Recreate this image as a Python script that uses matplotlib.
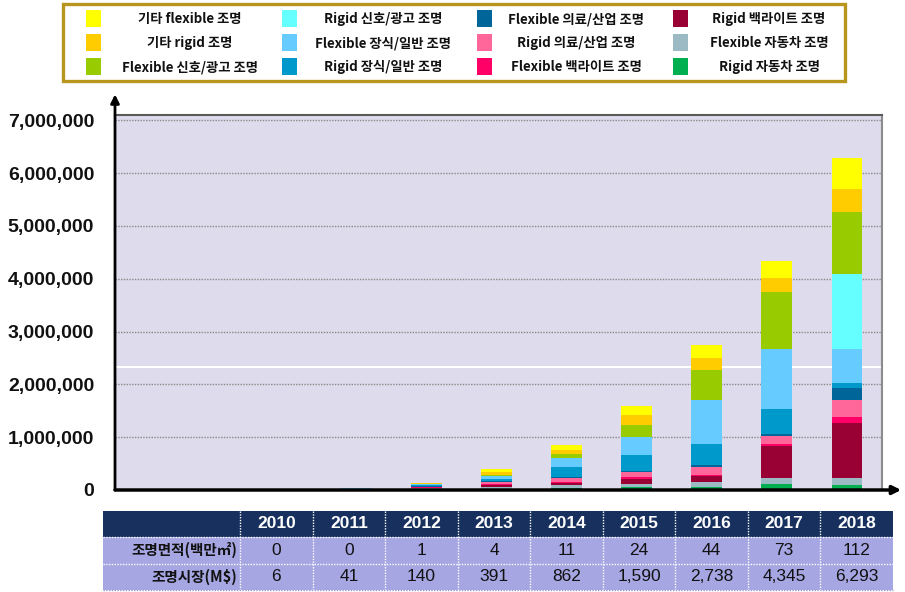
import numpy as np
import matplotlib
matplotlib.use("Agg")
import matplotlib.pyplot as plt
from matplotlib.patches import Rectangle

plt.rcParams['font.family'] = ['Noto Sans CJK KR', 'DejaVu Sans']

W, H = 905, 592

years = ["2010", "2011", "2012", "2013", "2014", "2015", "2016", "2017", "2018"]

# 단위: 천 달러 (축 눈금은 그대로 표기)
etc_flex = [500, 3000, 15000, 55000, 113000, 168000, 241000, 322000, 592000]
etc_rigid = [500, 3000, 10000, 45000, 74000, 201000, 226000, 270000, 435000]
flex_sign = [500, 3000, 10000, 28000, 74000, 222000, 572000, 1090000, 1185000]
rigid_sign = [0, 0, 0, 0, 0, 0, 0, 0, 1402000]
flex_deco = [500, 5000, 15000, 50000, 173000, 349000, 823000, 1131000, 654000]
rigid_deco = [500, 6000, 20000, 52000, 180000, 302000, 408000, 462000, 94000]
flex_medical = [200, 2000, 5000, 8000, 22000, 20000, 33000, 52000, 230000]
rigid_medical = [600, 4000, 15000, 45000, 74000, 94000, 142000, 154000, 312000]
flex_backlight = [200, 1000, 5000, 8000, 16000, 27000, 33000, 28000, 123000]
rigid_backlight = [500, 4000, 15000, 38000, 45000, 94000, 117000, 609000, 1047000]
flex_auto = [1000, 6000, 20000, 42000, 52000, 67000, 78000, 116000, 125000]
rigid_auto = [1000, 4000, 10000, 20000, 38000, 50000, 65000, 110000, 94000]

# 범례 순서 (열 우선)
labels = ["기타 flexible 조명", "기타 rigid 조명", "Flexible 신호/광고 조명",
          "Rigid 신호/광고 조명", "Flexible 장식/일반 조명", "Rigid 장식/일반 조명",
          "Flexible 의료/산업 조명", "Rigid 의료/산업 조명", "Flexible 백라이트 조명",
          "Rigid 백라이트 조명", "Flexible 자동차 조명", "Rigid 자동차 조명"]
colors = ["#FFFF00", "#FFCC00", "#99CC00",
          "#66FFFF", "#66CCFF", "#0099CC",
          "#006699", "#FF6699", "#FF0066",
          "#990033", "#9BBAC4", "#00B050"]
series = [etc_flex, etc_rigid, flex_sign, rigid_sign, flex_deco, rigid_deco,
          flex_medical, rigid_medical, flex_backlight, rigid_backlight,
          flex_auto, rigid_auto]

area_row = ["0", "0", "1", "4", "11", "24", "44", "73", "112"]
market_row = ["6", "41", "140", "391", "862", "1,590", "2,738", "4,345", "6,293"]
row_labels = ["조명면적(백만㎡)", "조명시장(M$)"]

fig = plt.figure(figsize=(W / 100, H / 100), dpi=100)

# ---- 본 차트 ----
ax = fig.add_axes([115 / W, 1 - 490 / H, 767 / W, 375 / H])
ax.set_facecolor("#DDDBEC")
x = np.arange(len(years))
bottom = np.zeros(len(years))
for vals, col in reversed(list(zip(series, colors))):
    v = np.array(vals, dtype=float)
    ax.bar(x, v, width=0.44, bottom=bottom, color=col, edgecolor="none", zorder=3)
    bottom += v

ax.set_xlim(-2.44, 8.5)
ax.set_ylim(0, 7.1e6)
yt = np.arange(0, 7000001, 1000000)
ax.set_yticks(yt)
ax.set_yticklabels([f"{int(v):,}" for v in yt], family="Liberation Sans",
                   fontweight="bold", fontsize=14, color="#111111")
ax.tick_params(axis="y", length=0, pad=15)
ax.set_xticks([])
ax.grid(axis="y", color="#8a8a8a", linestyle=(0, (1, 1)), lw=1, zorder=1)
ax.axhline(2.33e6, color="white", lw=1.5, zorder=2)

ax.spines["top"].set_color("#5a5a5a")
ax.spines["top"].set_linewidth(1.5)
ax.spines["right"].set_color("#8c8c8c")
ax.spines["right"].set_linewidth(1.5)
ax.spines["left"].set_visible(False)
ax.spines["bottom"].set_visible(False)
ax.annotate("", xy=(1.025, 0), xytext=(0, 0), xycoords="axes fraction",
            arrowprops=dict(arrowstyle="-|>,head_length=0.5,head_width=0.25",
                            color="black", lw=2.5, shrinkA=0, shrinkB=0),
            annotation_clip=False, zorder=5)
ax.annotate("", xy=(0, 1.055), xytext=(0, 0), xycoords="axes fraction",
            arrowprops=dict(arrowstyle="-|>,head_length=0.5,head_width=0.25",
                            color="black", lw=2, shrinkA=0, shrinkB=0),
            annotation_clip=False, zorder=5)

# ---- 범례 ----
lg = fig.add_axes([0, 0, 1, 1], zorder=-1)
lg.set_xlim(0, W)
lg.set_ylim(H, 0)
lg.axis("off")
lg.add_patch(Rectangle((63, 4), 782, 77, facecolor="white", edgecolor="#B8961E", lw=2.4))
for i, (lab, col) in enumerate(zip(labels, colors)):
    c, r = i // 3, i % 3
    sy = 10 + r * 24
    lg.add_patch(Rectangle((86 + c * 195.5, sy), 15, 17, facecolor=col, edgecolor="none"))
    lg.text(190 + c * 193, sy + 9, lab, ha="center", va="center", fontsize=9.6,
            fontweight="bold", family=["Noto Sans CJK KR", "DejaVu Sans"], color="#111111")

# ---- 표 ----
tx0, ty0 = 103, 511
first_w = 137
col_w = (893 - 103 - first_w) / len(years)
row_h = [26, 26.5, 26.5]
header_col = "#17305E"
body_col = "#A6A6E3"
num_font = ["Liberation Sans Narrow", "Liberation Sans", "Noto Sans CJK KR"]

y = ty0
for ri in range(3):
    fc = header_col if ri == 0 else body_col
    lg.add_patch(Rectangle((tx0, y), 893 - tx0, row_h[ri], facecolor=fc, edgecolor="none"))
    cy = y + row_h[ri] / 2
    if ri == 0:
        for j, yr in enumerate(years):
            lg.text(tx0 + first_w + (j + 0.5) * col_w, cy, yr, ha="center", va="center",
                    color="white", fontsize=12.5, fontweight="bold", family=num_font)
    else:
        vals = area_row if ri == 1 else market_row
        lg.text(tx0 + first_w - 3, cy, row_labels[ri - 1], ha="right", va="center",
                color="#111111", fontsize=10.5, fontweight="bold",
                family=["Noto Sans CJK KR", "DejaVu Sans"])
        for j, v in enumerate(vals):
            lg.text(tx0 + first_w + (j + 0.5) * col_w, cy, v, ha="center", va="center",
                    color="#111111", fontsize=12.5, family=num_font)
    y += row_h[ri]

# 구분 점선
for j in range(len(years)):
    xx = tx0 + first_w + j * col_w
    lg.plot([xx, xx], [ty0, 590], color="white", lw=1, linestyle=(0, (1, 1)))
yy = ty0
for h in row_h[:-1]:
    yy += h
    lg.plot([tx0, 893], [yy, yy], color="white", lw=1, linestyle=(0, (1, 1)))
lg.plot([tx0, 893], [590, 590], color="#9a9ad0", lw=1, linestyle=(0, (1, 1)))

fig.savefig("out.png", dpi=100)
